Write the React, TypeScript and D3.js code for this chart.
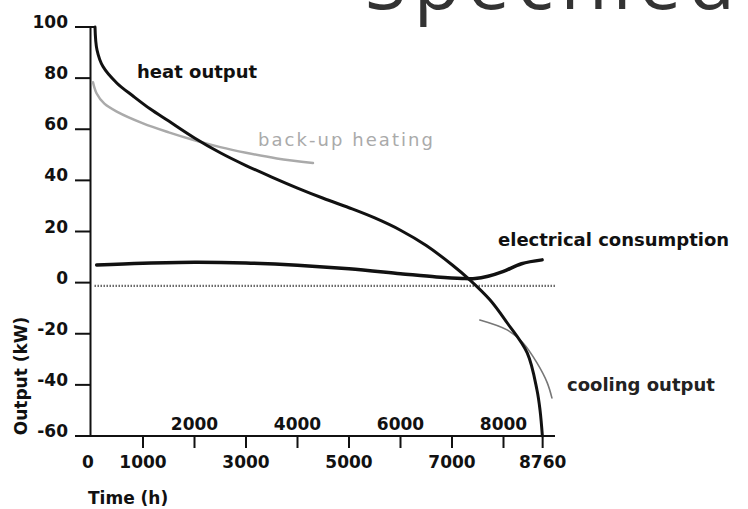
import React from "react";
import * as d3 from "d3";

// ---- data (hours, kW) ----
const heatHours = [68, 107, 223, 495, 806, 1136, 1500, 2000, 2500, 3000, 3500, 4000, 4500, 5000, 5500, 6000, 6500, 7000, 7350, 7740, 8070, 8460, 8650, 8710, 8755];
const heatOutput = [100, 91, 84.5, 78, 73, 68, 63.2, 56.6, 50.8, 45.8, 41.3, 37, 33, 29.3, 25.3, 20.5, 14.5, 7, 1, -6.8, -15.7, -27.5, -42, -50, -60];

const backupHours = [29, 100, 250, 500, 1000, 1500, 2000, 2500, 3000, 3600, 4300];
const backupHeating = [78.4, 74, 70, 66.8, 62.3, 58.8, 55.7, 53.0, 50.8, 48.6, 46.8];

const elecHours = [100, 1000, 2000, 3000, 4000, 5000, 6000, 6700, 7200, 7450, 7700, 8000, 8350, 8750];
const elecConsumption = [6.9, 7.6, 8.0, 7.7, 6.8, 5.4, 3.5, 2.2, 1.6, 1.6, 2.5, 4.4, 7.4, 8.9];

const coolHours = [7540, 8070, 8380, 8650, 8850, 8940];
const coolingOutput = [-14.6, -18.5, -23.6, -31.4, -39.2, -45.1];

const baselineHours = [60, 9000];
const baselineValue = [-1.3, -1.3];

const yTicks = [100, 80, 60, 40, 20, 0, -20, -40, -60];
const xTicksLower = [1000, 3000, 5000, 7000, 8760];
const xTicksUpper = [2000, 4000, 6000, 8000];

const seriesLabels = ["heat output", "back-up heating", "electrical consumption", "cooling output"];
const titleText = "Specified";

export default function App() {
  const W = 748, H = 509;
  const x = d3.scaleLinear().domain([0, 9000]).range([91.5, 555]);
  const y = d3.scaleLinear().domain([-60, 100]).range([436, 27]);

  const mk = (xs: number[], ys: number[]) =>
    d3.line<number>().x((_, i) => x(xs[i])).y((_, i) => y(ys[i])).curve(d3.curveCatmullRom.alpha(0.5))(xs) || "";

  const font = "'DejaVu Sans', sans-serif";
  const axisX = x(0) - 1;

  return (
    <>
      <style>{`body{margin:0}`}</style>
      <svg width={W} height={H} style={{ display: "block", background: "#fff" }}>
        {/* title fragment at top */}
        <text x={365} y={9} fontFamily="'Open Sans', sans-serif" fontWeight={400} fontSize={76}
          fill="#333" textLength={370} lengthAdjust="spacing">{titleText}</text>

        {/* axes */}
        <line x1={axisX} x2={axisX} y1={y(100)} y2={y(-60)} stroke="#111" strokeWidth={2} />
        <line x1={75} x2={x(9000)} y1={y(-60)} y2={y(-60)} stroke="#111" strokeWidth={2} />
        {yTicks.map((t) => (
          <g key={"yt" + t}>
            <line x1={75} x2={t === 100 ? axisX + 4 : axisX} y1={y(t)} y2={y(t)} stroke="#111" strokeWidth={2} />
            <text x={68} y={y(t) + 1} textAnchor="end" fontFamily={font} fontWeight="bold" fontSize={17} fill="#111">{t}</text>
          </g>
        ))}
        {[...xTicksLower, ...xTicksUpper].map((t) => (
          <line key={"xt" + t} x1={x(t)} x2={x(t)} y1={y(-60)} y2={y(-60) + 12} stroke="#111" strokeWidth={2} />
        ))}
        <text x={88} y={468} textAnchor="middle" fontFamily={font} fontWeight="bold" fontSize={17} fill="#111">0</text>
        {xTicksLower.map((t) => (
          <text key={"xl" + t} x={x(t)} y={468} textAnchor="middle" fontFamily={font} fontWeight="bold" fontSize={17} fill="#111">{t}</text>
        ))}
        {xTicksUpper.map((t) => (
          <text key={"xu" + t} x={x(t)} y={430} textAnchor="middle" fontFamily={font} fontWeight="bold" fontSize={17} fill="#111">{t}</text>
        ))}
        <text x={88} y={504} fontFamily={font} fontWeight="bold" fontSize={17} fill="#111">Time (h)</text>
        <text transform="translate(27,376) rotate(-90)" textAnchor="middle" fontFamily={font} fontWeight="bold" fontSize={17} fill="#111">Output (kW)</text>

        {/* zero reference (dotted) */}
        <path d={mk(baselineHours, baselineValue)} fill="none" stroke="#444" strokeWidth={2.2} strokeDasharray="1.2 1.8" />

        {/* series */}
        <path d={mk(backupHours, backupHeating)} fill="none" stroke="#aaa" strokeWidth={2.5} strokeLinecap="round" />
        <path d={mk(coolHours, coolingOutput)} fill="none" stroke="#777" strokeWidth={1.6} strokeLinecap="round" />
        <path d={mk(elecHours, elecConsumption)} fill="none" stroke="#111" strokeWidth={3.5} strokeLinecap="round" />
        <path d={mk(heatHours, heatOutput)} fill="none" stroke="#111" strokeWidth={3} strokeLinecap="round" />

        {/* labels */}
        <text x={137} y={78} fontFamily={font} fontWeight="bold" fontSize={18} fill="#111">{seriesLabels[0]}</text>
        <text x={258} y={146} fontFamily={font} fontSize={18} fill="#aaa" textLength={175} lengthAdjust="spacing">{seriesLabels[1]}</text>
        <text x={498} y={246} fontFamily={font} fontWeight="bold" fontSize={18} fill="#111">{seriesLabels[2]}</text>
        <text x={567} y={391} fontFamily={font} fontWeight="bold" fontSize={18} fill="#222">{seriesLabels[3]}</text>
      </svg>
    </>
  );
}
